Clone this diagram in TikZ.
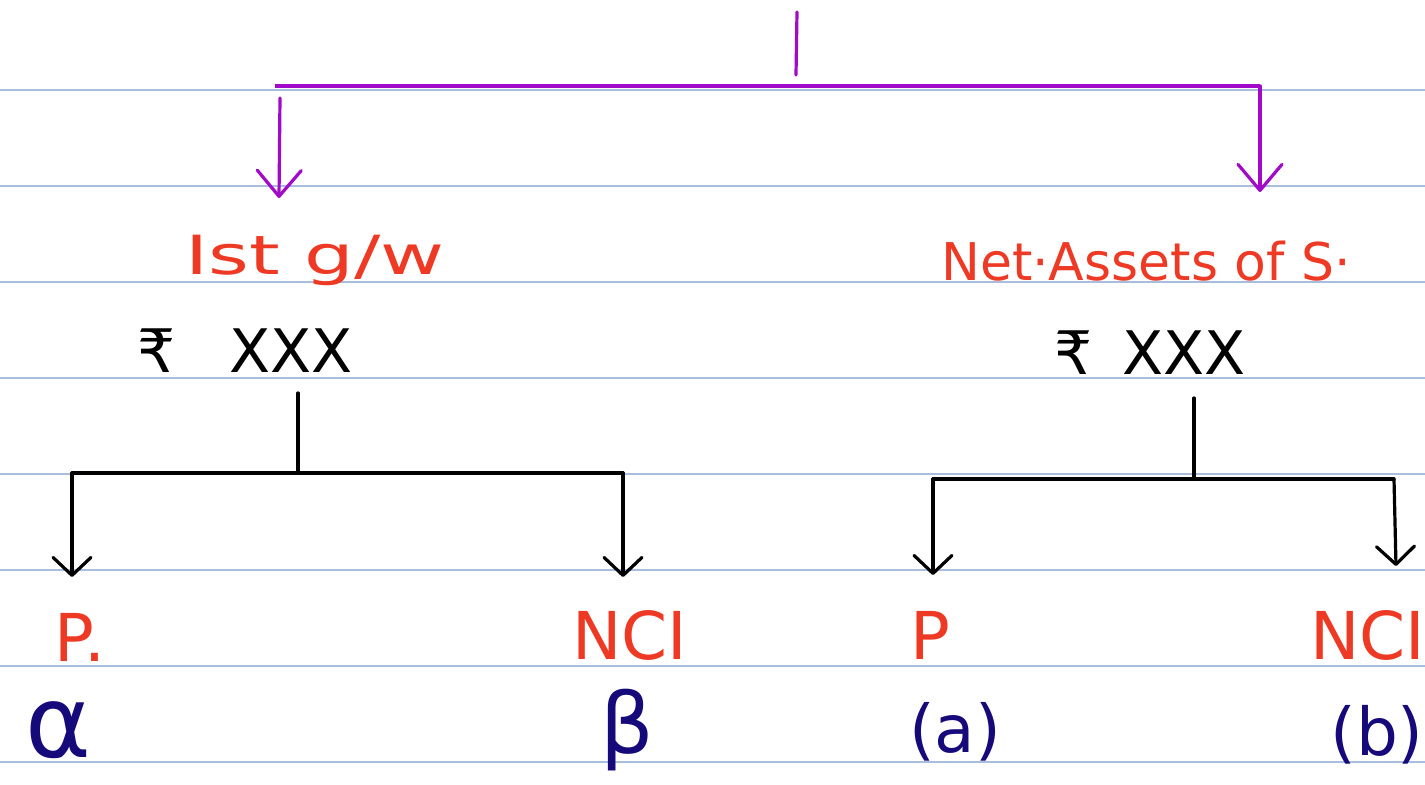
\documentclass[tikz,border=0pt]{standalone}
\usepackage{fontspec}
\setmainfont{DejaVu Sans}
\usetikzlibrary{arrows.meta}
\definecolor{rulec}{HTML}{A9BEDD}
\definecolor{purp}{HTML}{A00AC8}
\definecolor{hred}{HTML}{EE3A24}
\definecolor{navy}{HTML}{160A7A}
\begin{document}
\begin{tikzpicture}[x=0.5pt,y=-0.5pt,
  ruleline/.style={rulec,line width=0.8pt},
  purpline/.style={purp,line width=1.6pt,line cap=round},
  purpbar/.style={purp,line width=2.3pt},
  purparrow/.style={purpline,-{Straight Barb[length=13pt,width=22pt,round]}},
  blkline/.style={black,line width=1.6pt,line cap=round},
  blkarrow/.style={blkline,-{Straight Barb[length=9pt,width=19pt,round]}},
  redtxt/.style={text=hred,inner sep=0pt,anchor=base},
  amttxt/.style={text=black,inner sep=0pt,anchor=base,font=\fontsize{30}{36}\selectfont},
  lbltxt/.style={text=hred,inner sep=0pt,anchor=base,font=\fontsize{33}{40}\selectfont},
  grktxt/.style={text=navy,inner sep=0pt,anchor=center,font=\fontsize{33}{40}\selectfont}
]
\fill[white] (0,0) rectangle (1425,785);
\useasboundingbox (0,0) rectangle (1425,785);
% ruled lines
\foreach \yy in {90,186,282,378,474,570,666,762}
  \draw[ruleline] (0,\yy) -- (1425,\yy);

% text nodes
\node[redtxt,font=\fontsize{27}{32}\selectfont] (gw) at (315,275) {\scalebox{1.45}[1]{Ist g/w}};
\node[redtxt,font=\fontsize{26}{32}\selectfont] (nas) at (1146,281) {Net·Assets of S·};
\node[amttxt] (amt1) at (245,373) {₹\hspace{0.9em}XXX};
\node[amttxt] (amt2) at (1150,375) {₹\hspace{0.5em}XXX};
\node[lbltxt] (p1) at (80,662) {P.};
\node[lbltxt] (nci1) at (630,660) {NCI};
\node[lbltxt] (p2) at (930,660) {P};
\node[lbltxt] (nci2) at (1368,660) {NCI};
\node[grktxt,anchor=base,font=\fontsize{50}{54}\selectfont] (al) at (58,757) {α};
\node[grktxt,font=\fontsize{42}{46}\selectfont] (be) at (627,730) {β};
\node[grktxt] (pa) at (955,732) {(a)};
\node[grktxt] (pb) at (1377,735) {(b)};

% purple top bracket
\coordinate (stubT) at (797,12);
\coordinate (stubB) at (796,75);
\coordinate (barL) at (275,86);
\coordinate (barR) at (1260,86);
\coordinate (arrLs) at (280,98);
\coordinate (arrLe) at (279,198);
\coordinate (arrRe) at (1260,192);
\draw[purpline] (stubT) -- (stubB);
\draw[purpbar] (barL) -- (barR);
\draw[purparrow] (arrLs) -- (arrLe);
\draw[purparrow] (barR) -- (arrRe);

% left black tree
\coordinate (s1) at (298,393);
\coordinate (j1) at (298,473);
\coordinate (l1) at (72,473);
\coordinate (r1) at (623,473);
\coordinate (l1e) at (72,577);
\coordinate (r1e) at (623,577);
\draw[blkline] (s1) -- (j1);
\draw[blkline] (l1) -- (r1);
\draw[blkarrow] (l1) -- (l1e);
\draw[blkarrow] (r1) -- (r1e);

% right black tree
\coordinate (s2) at (1194,398);
\coordinate (j2) at (1194,479);
\coordinate (l2) at (933,479);
\coordinate (r2) at (1394,479);
\coordinate (l2e) at (933,575);
\coordinate (r2e) at (1396,566);
\draw[blkline] (s2) -- (j2);
\draw[blkline] (l2) -- (r2);
\draw[blkarrow] (l2) -- (l2e);
\draw[blkarrow] (r2) -- (r2e);
\end{tikzpicture}
\end{document}
